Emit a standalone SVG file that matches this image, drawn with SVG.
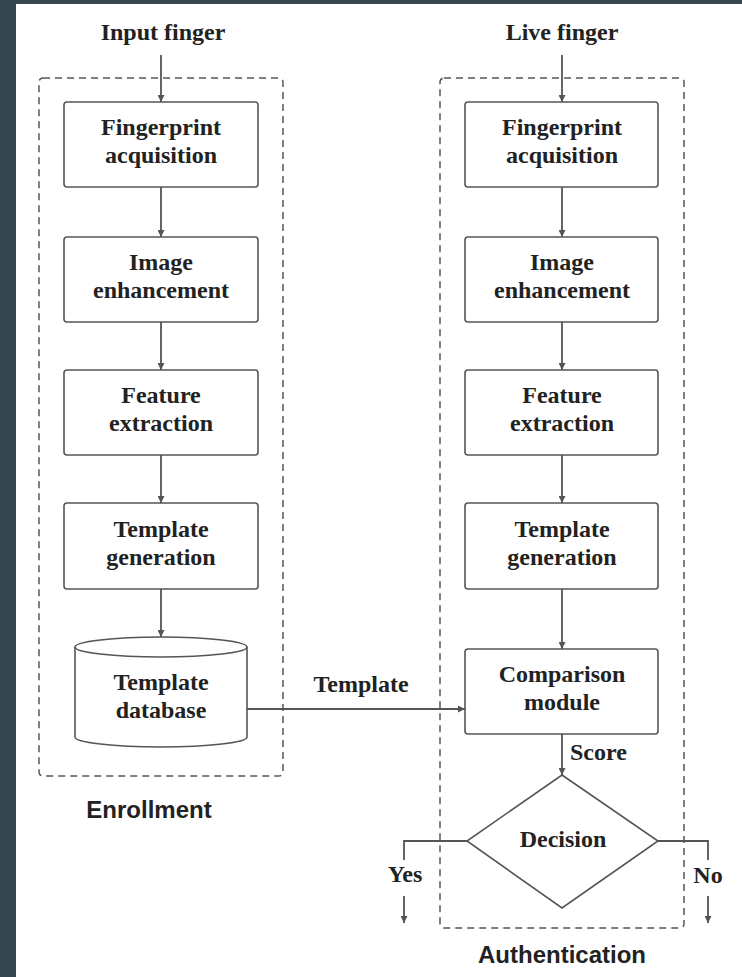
<svg xmlns="http://www.w3.org/2000/svg" width="742" height="977" viewBox="0 0 742 977">
  <style>
    .frame { fill: #37474f; }
    .page { fill: #ffffff; }
    .box { fill: #ffffff; stroke: #555; stroke-width: 1.6; }
    .group { fill: none; stroke: #555; stroke-width: 1.5; stroke-dasharray: 7 5; }
    .edge { fill: none; stroke: #555; stroke-width: 1.8; }
    .lbl { font-family: "Liberation Serif", "Times New Roman", serif; font-weight: bold; font-size: 24px; fill: #222; text-anchor: middle; }
    .cap { font-family: "Liberation Sans", Arial, sans-serif; font-weight: bold; font-size: 24px; fill: #222; text-anchor: middle; }
  </style>
  <defs>
    <marker id="arrow" viewBox="0 0 10 10" refX="10" refY="5" markerWidth="7" markerHeight="7" markerUnits="userSpaceOnUse" orient="auto">
      <path d="M0,0 L10,5 L0,10 z" fill="#555"/>
    </marker>
  </defs>

  <!-- page and dark frame -->
  <rect class="page" x="0" y="0" width="742" height="977"/>
  <rect class="frame" x="0" y="0" width="16" height="977"/>
  <rect class="frame" x="0" y="0" width="742" height="4"/>

  <!-- dashed phase groups -->
  <g id="enrollment">
    <rect class="group" x="39" y="78" width="244" height="698" rx="4"/>
    <text class="cap" x="149" y="818">Enrollment</text>
  </g>
  <g id="authentication">
    <rect class="group" x="440" y="78" width="244" height="850" rx="4"/>
    <text class="cap" x="562" y="963">Authentication</text>
  </g>

  <!-- connectors -->
  <g id="connectors">
    <path class="edge" d="M161,55 V102" marker-end="url(#arrow)"/>
    <path class="edge" d="M161,187 V237" marker-end="url(#arrow)"/>
    <path class="edge" d="M161,322 V370" marker-end="url(#arrow)"/>
    <path class="edge" d="M161,455 V503" marker-end="url(#arrow)"/>
    <path class="edge" d="M161,589 V637" marker-end="url(#arrow)"/>

    <path class="edge" d="M562,55 V102" marker-end="url(#arrow)"/>
    <path class="edge" d="M562,187 V237" marker-end="url(#arrow)"/>
    <path class="edge" d="M562,322 V370" marker-end="url(#arrow)"/>
    <path class="edge" d="M562,455 V503" marker-end="url(#arrow)"/>
    <path class="edge" d="M562,589 V649" marker-end="url(#arrow)"/>
    <path class="edge" d="M562,734 V775" marker-end="url(#arrow)"/>

    <path class="edge" d="M247,709 H465" marker-end="url(#arrow)"/>
    <text class="lbl" x="361" y="692">Template</text>
    <text class="lbl" x="570" y="760" style="text-anchor:start">Score</text>

    <path class="edge" d="M467,841 H404 V860"/>
    <path class="edge" d="M404,896 V923" marker-end="url(#arrow)"/>
    <text class="lbl" x="405" y="882">Yes</text>
    <path class="edge" d="M658,841 H708 V860"/>
    <path class="edge" d="M708,896 V923" marker-end="url(#arrow)"/>
    <text class="lbl" x="708" y="883">No</text>
  </g>

  <!-- inputs -->
  <g id="input-finger"><text class="lbl" x="163" y="40">Input finger</text></g>
  <g id="live-finger"><text class="lbl" x="562" y="40">Live finger</text></g>

  <!-- enrollment column -->
  <g id="enr-acquisition">
    <rect class="box" x="64" y="102" width="194" height="85" rx="3"/>
    <text class="lbl" x="161" y="135">Fingerprint</text>
    <text class="lbl" x="161" y="163">acquisition</text>
  </g>
  <g id="enr-enhancement">
    <rect class="box" x="64" y="237" width="194" height="85" rx="3"/>
    <text class="lbl" x="161" y="270">Image</text>
    <text class="lbl" x="161" y="298">enhancement</text>
  </g>
  <g id="enr-extraction">
    <rect class="box" x="64" y="370" width="194" height="85" rx="3"/>
    <text class="lbl" x="161" y="403">Feature</text>
    <text class="lbl" x="161" y="431">extraction</text>
  </g>
  <g id="enr-generation">
    <rect class="box" x="64" y="503" width="194" height="86" rx="3"/>
    <text class="lbl" x="161" y="537">Template</text>
    <text class="lbl" x="161" y="565">generation</text>
  </g>
  <g id="template-database">
    <path class="box" d="M75,647 V737 A86,10 0 0 0 247,737 V647"/>
    <ellipse class="box" cx="161" cy="647" rx="86" ry="10"/>
    <text class="lbl" x="161" y="690">Template</text>
    <text class="lbl" x="161" y="718">database</text>
  </g>

  <!-- authentication column -->
  <g id="auth-acquisition">
    <rect class="box" x="465" y="102" width="193" height="85" rx="3"/>
    <text class="lbl" x="562" y="135">Fingerprint</text>
    <text class="lbl" x="562" y="163">acquisition</text>
  </g>
  <g id="auth-enhancement">
    <rect class="box" x="465" y="237" width="193" height="85" rx="3"/>
    <text class="lbl" x="562" y="270">Image</text>
    <text class="lbl" x="562" y="298">enhancement</text>
  </g>
  <g id="auth-extraction">
    <rect class="box" x="465" y="370" width="193" height="85" rx="3"/>
    <text class="lbl" x="562" y="403">Feature</text>
    <text class="lbl" x="562" y="431">extraction</text>
  </g>
  <g id="auth-generation">
    <rect class="box" x="465" y="503" width="193" height="86" rx="3"/>
    <text class="lbl" x="562" y="537">Template</text>
    <text class="lbl" x="562" y="565">generation</text>
  </g>
  <g id="comparison-module">
    <rect class="box" x="465" y="649" width="193" height="85" rx="3"/>
    <text class="lbl" x="562" y="682">Comparison</text>
    <text class="lbl" x="562" y="710">module</text>
  </g>
  <g id="decision">
    <polygon class="box" points="562,775 658,841 562,908 467,841"/>
    <text class="lbl" x="563" y="847">Decision</text>
  </g>
</svg>
